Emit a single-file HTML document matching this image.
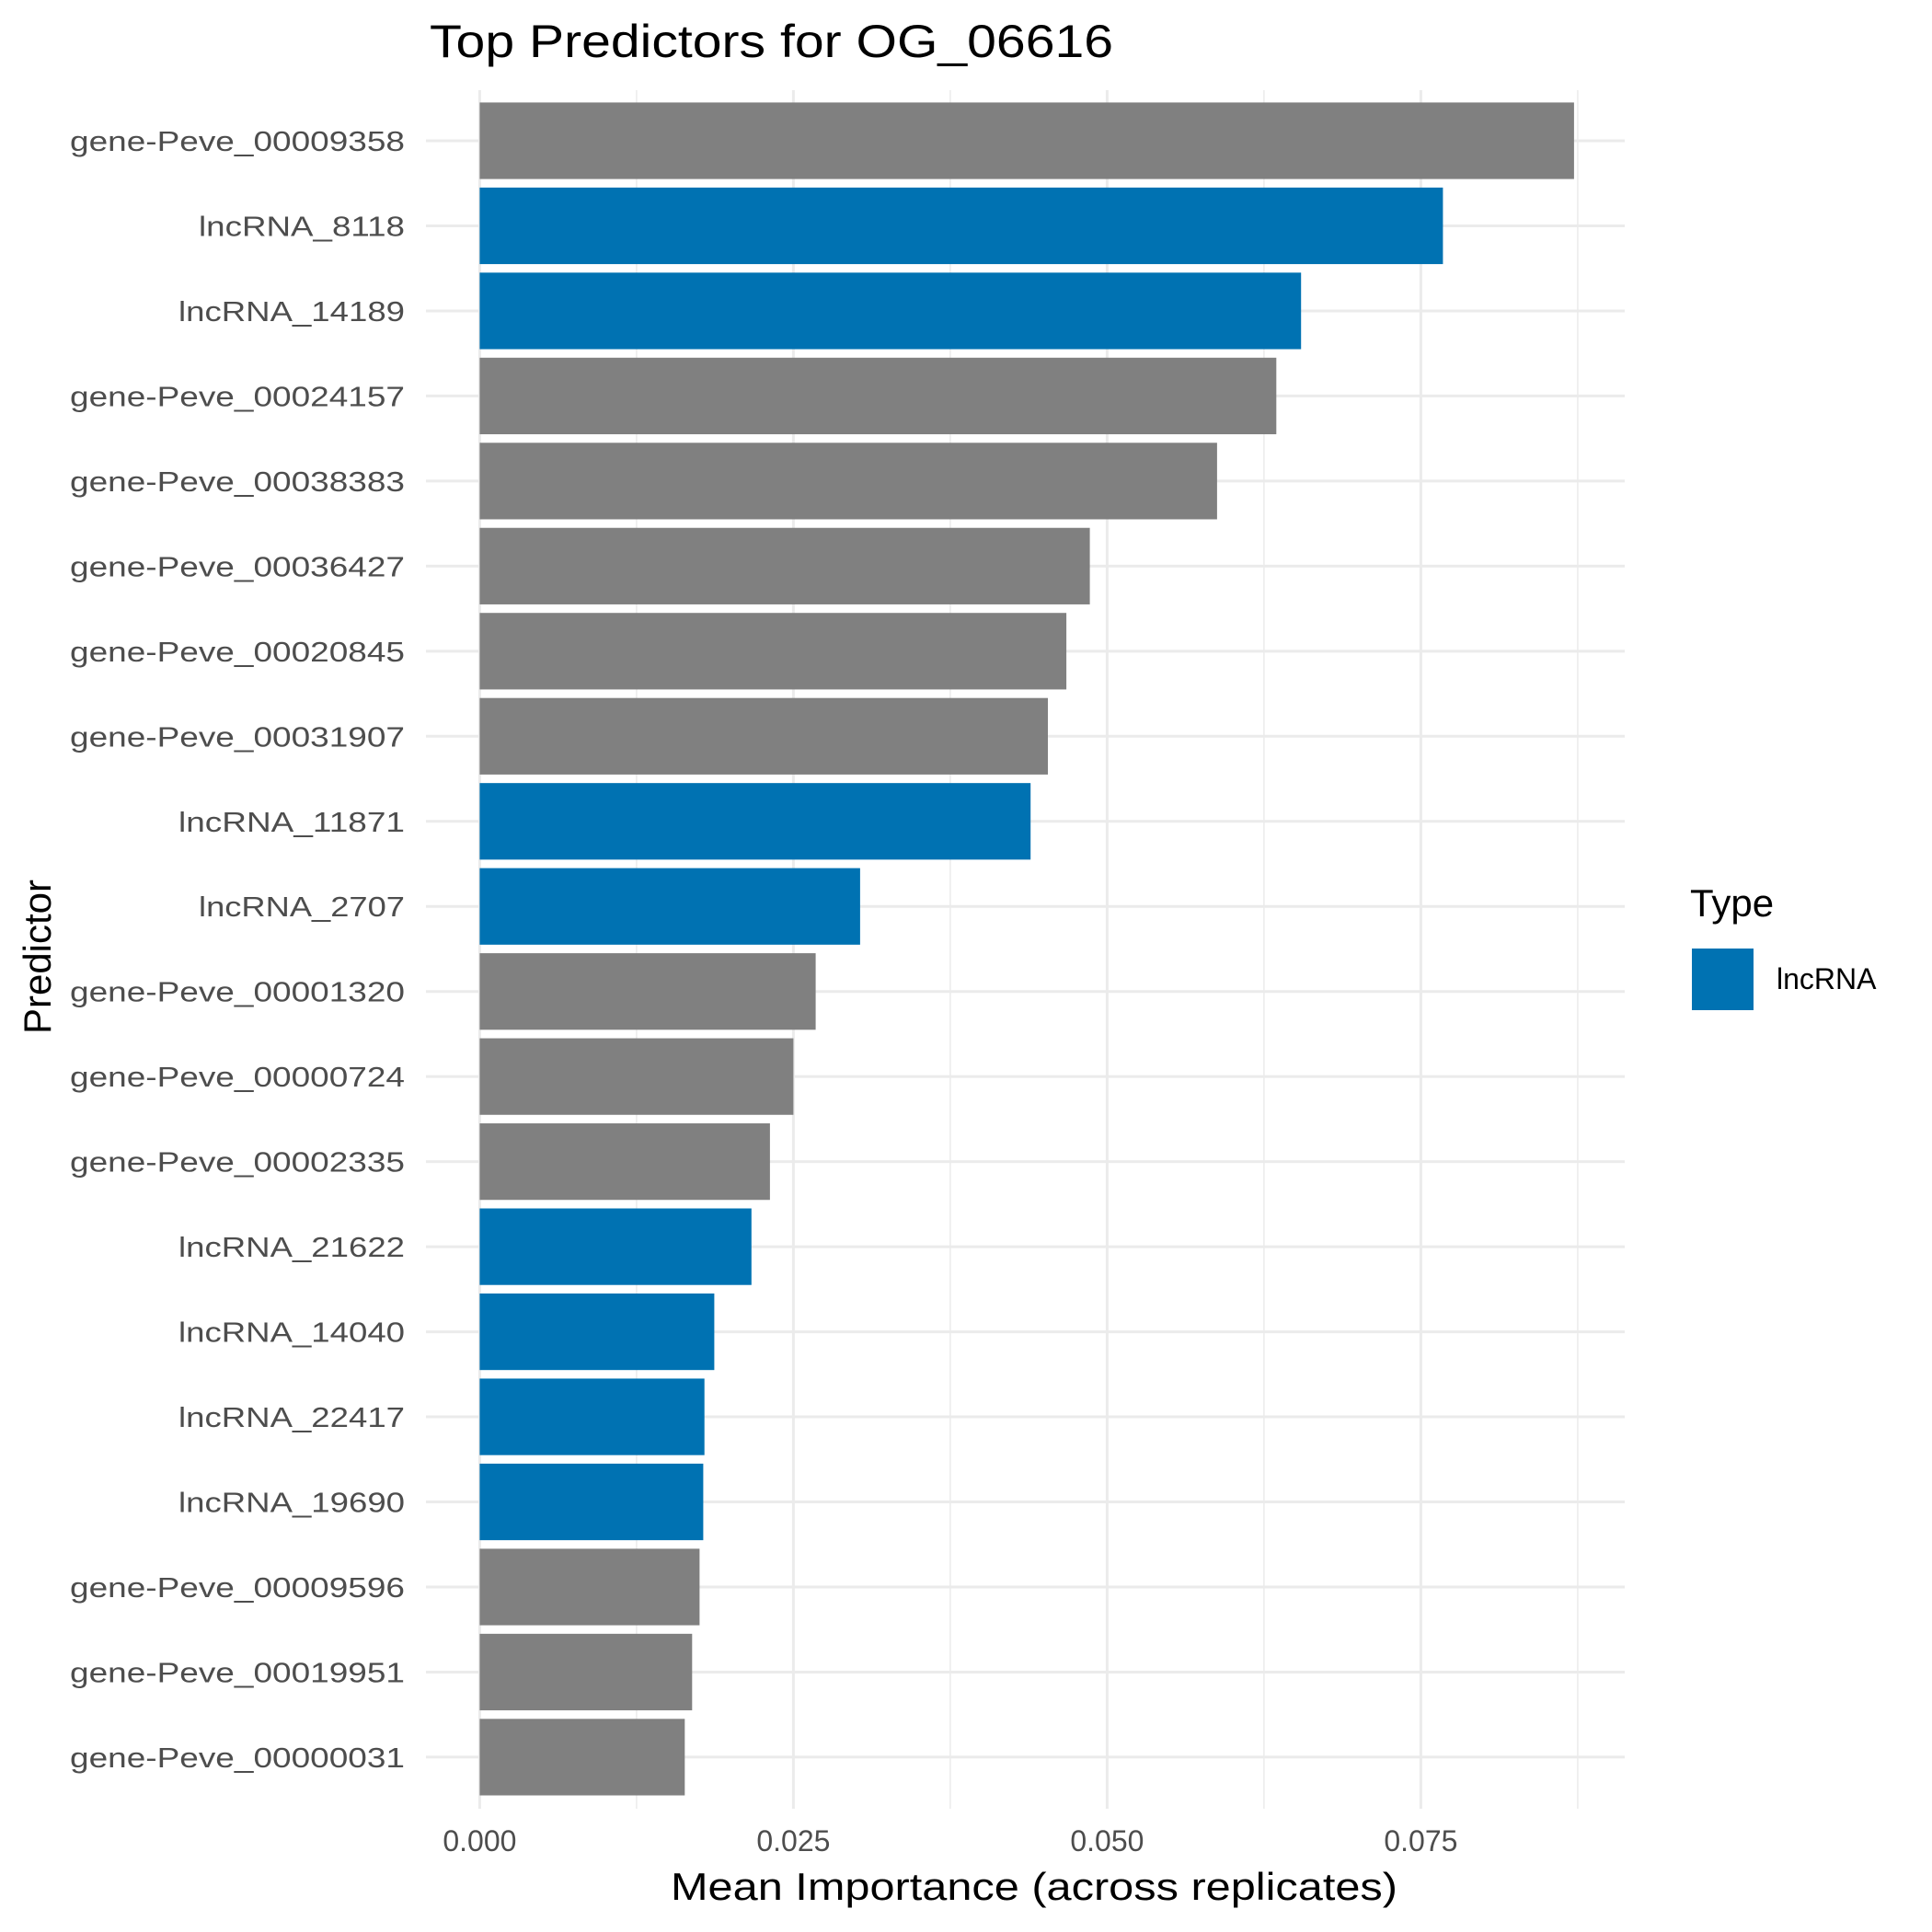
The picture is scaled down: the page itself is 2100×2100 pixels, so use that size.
<!DOCTYPE html>
<html><head><style>html,body{margin:0;padding:0;background:#fff;}svg{display:block;}</style></head><body>
<svg width="2100" height="2100" xmlns="http://www.w3.org/2000/svg" font-family="'Liberation Sans', sans-serif">
<rect width="2100" height="2100" fill="#fff"/>
<g stroke="#EBEBEB">
<line x1="691.9" y1="98" x2="691.9" y2="1966" stroke-width="1.5"/>
<line x1="1032.9" y1="98" x2="1032.9" y2="1966" stroke-width="1.5"/>
<line x1="1373.9" y1="98" x2="1373.9" y2="1966" stroke-width="1.5"/>
<line x1="1714.9" y1="98" x2="1714.9" y2="1966" stroke-width="1.5"/>
<line x1="521.4" y1="98" x2="521.4" y2="1966" stroke-width="3"/>
<line x1="862.4" y1="98" x2="862.4" y2="1966" stroke-width="3"/>
<line x1="1203.4" y1="98" x2="1203.4" y2="1966" stroke-width="3"/>
<line x1="1544.4" y1="98" x2="1544.4" y2="1966" stroke-width="3"/>
<line x1="463" x2="1766" y1="153" y2="153" stroke-width="3"/>
<line x1="463" x2="1766" y1="245.47" y2="245.47" stroke-width="3"/>
<line x1="463" x2="1766" y1="337.94" y2="337.94" stroke-width="3"/>
<line x1="463" x2="1766" y1="430.41" y2="430.41" stroke-width="3"/>
<line x1="463" x2="1766" y1="522.88" y2="522.88" stroke-width="3"/>
<line x1="463" x2="1766" y1="615.35" y2="615.35" stroke-width="3"/>
<line x1="463" x2="1766" y1="707.82" y2="707.82" stroke-width="3"/>
<line x1="463" x2="1766" y1="800.29" y2="800.29" stroke-width="3"/>
<line x1="463" x2="1766" y1="892.76" y2="892.76" stroke-width="3"/>
<line x1="463" x2="1766" y1="985.23" y2="985.23" stroke-width="3"/>
<line x1="463" x2="1766" y1="1077.7" y2="1077.7" stroke-width="3"/>
<line x1="463" x2="1766" y1="1170.17" y2="1170.17" stroke-width="3"/>
<line x1="463" x2="1766" y1="1262.64" y2="1262.64" stroke-width="3"/>
<line x1="463" x2="1766" y1="1355.11" y2="1355.11" stroke-width="3"/>
<line x1="463" x2="1766" y1="1447.58" y2="1447.58" stroke-width="3"/>
<line x1="463" x2="1766" y1="1540.05" y2="1540.05" stroke-width="3"/>
<line x1="463" x2="1766" y1="1632.52" y2="1632.52" stroke-width="3"/>
<line x1="463" x2="1766" y1="1724.99" y2="1724.99" stroke-width="3"/>
<line x1="463" x2="1766" y1="1817.46" y2="1817.46" stroke-width="3"/>
<line x1="463" x2="1766" y1="1909.93" y2="1909.93" stroke-width="3"/>
</g>
<g>
<rect x="521.4" y="111.4" width="1189.5" height="83.2" fill="#808080"/>
<rect x="521.4" y="203.87" width="1047" height="83.2" fill="#0072B2"/>
<rect x="521.4" y="296.34" width="892.8" height="83.2" fill="#0072B2"/>
<rect x="521.4" y="388.81" width="865.9" height="83.2" fill="#808080"/>
<rect x="521.4" y="481.28" width="801.5" height="83.2" fill="#808080"/>
<rect x="521.4" y="573.75" width="663.2" height="83.2" fill="#808080"/>
<rect x="521.4" y="666.22" width="637.7" height="83.2" fill="#808080"/>
<rect x="521.4" y="758.69" width="617.6" height="83.2" fill="#808080"/>
<rect x="521.4" y="851.16" width="598.8" height="83.2" fill="#0072B2"/>
<rect x="521.4" y="943.63" width="413.5" height="83.2" fill="#0072B2"/>
<rect x="521.4" y="1036.1" width="365.2" height="83.2" fill="#808080"/>
<rect x="521.4" y="1128.57" width="341" height="83.2" fill="#808080"/>
<rect x="521.4" y="1221.04" width="315.5" height="83.2" fill="#808080"/>
<rect x="521.4" y="1313.51" width="295.4" height="83.2" fill="#0072B2"/>
<rect x="521.4" y="1405.98" width="255" height="83.2" fill="#0072B2"/>
<rect x="521.4" y="1498.45" width="244.3" height="83.2" fill="#0072B2"/>
<rect x="521.4" y="1590.92" width="243" height="83.2" fill="#0072B2"/>
<rect x="521.4" y="1683.39" width="239" height="83.2" fill="#808080"/>
<rect x="521.4" y="1775.86" width="230.9" height="83.2" fill="#808080"/>
<rect x="521.4" y="1868.33" width="222.9" height="83.2" fill="#808080"/>
</g>
<g font-size="31" fill="#4D4D4D" text-anchor="end">
<text x="440" y="164" textLength="364" lengthAdjust="spacingAndGlyphs">gene-Peve_00009358</text>
<text x="440" y="256.47" textLength="224" lengthAdjust="spacingAndGlyphs">lncRNA_8118</text>
<text x="440" y="348.94" textLength="246" lengthAdjust="spacingAndGlyphs">lncRNA_14189</text>
<text x="440" y="441.41" textLength="364" lengthAdjust="spacingAndGlyphs">gene-Peve_00024157</text>
<text x="440" y="533.88" textLength="364" lengthAdjust="spacingAndGlyphs">gene-Peve_00038383</text>
<text x="440" y="626.35" textLength="364" lengthAdjust="spacingAndGlyphs">gene-Peve_00036427</text>
<text x="440" y="718.82" textLength="364" lengthAdjust="spacingAndGlyphs">gene-Peve_00020845</text>
<text x="440" y="811.29" textLength="364" lengthAdjust="spacingAndGlyphs">gene-Peve_00031907</text>
<text x="440" y="903.76" textLength="246" lengthAdjust="spacingAndGlyphs">lncRNA_11871</text>
<text x="440" y="996.23" textLength="224" lengthAdjust="spacingAndGlyphs">lncRNA_2707</text>
<text x="440" y="1088.7" textLength="364" lengthAdjust="spacingAndGlyphs">gene-Peve_00001320</text>
<text x="440" y="1181.17" textLength="364" lengthAdjust="spacingAndGlyphs">gene-Peve_00000724</text>
<text x="440" y="1273.64" textLength="364" lengthAdjust="spacingAndGlyphs">gene-Peve_00002335</text>
<text x="440" y="1366.11" textLength="246" lengthAdjust="spacingAndGlyphs">lncRNA_21622</text>
<text x="440" y="1458.58" textLength="246" lengthAdjust="spacingAndGlyphs">lncRNA_14040</text>
<text x="440" y="1551.05" textLength="246" lengthAdjust="spacingAndGlyphs">lncRNA_22417</text>
<text x="440" y="1643.52" textLength="246" lengthAdjust="spacingAndGlyphs">lncRNA_19690</text>
<text x="440" y="1735.99" textLength="364" lengthAdjust="spacingAndGlyphs">gene-Peve_00009596</text>
<text x="440" y="1828.46" textLength="364" lengthAdjust="spacingAndGlyphs">gene-Peve_00019951</text>
<text x="440" y="1920.93" textLength="364" lengthAdjust="spacingAndGlyphs">gene-Peve_00000031</text>
</g>
<text x="467" y="62" font-size="50" fill="#000" textLength="743" lengthAdjust="spacingAndGlyphs">Top Predictors for OG_06616</text>
<g font-size="32" fill="#4D4D4D" text-anchor="middle">
<text x="521.4" y="2012">0.000</text>
<text x="862.4" y="2012">0.025</text>
<text x="1203.4" y="2012">0.050</text>
<text x="1544.4" y="2012">0.075</text>
</g>
<text x="1124" y="2065" font-size="42" text-anchor="middle" textLength="790" lengthAdjust="spacingAndGlyphs">Mean Importance (across replicates)</text>
<text transform="translate(55,1040) rotate(-90)" font-size="42" text-anchor="middle">Predictor</text>
<text x="1837" y="996" font-size="42">Type</text>
<rect x="1839" y="1031" width="67" height="67" fill="#0072B2"/>
<text x="1931" y="1075" font-size="32">lncRNA</text>
</svg>
</body></html>
